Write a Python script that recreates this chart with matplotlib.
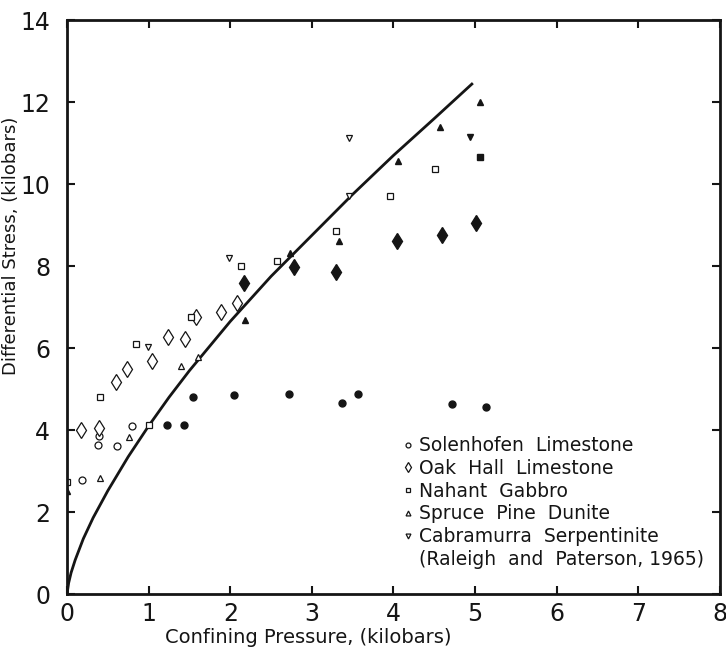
import matplotlib
matplotlib.use('Agg')
import matplotlib.pyplot as plt
from matplotlib.lines import Line2D

# Solenhofen Limestone (open circles)
sol_p = [0.18, 0.38, 0.39, 0.61, 0.80]
sol_s = [2.78, 3.63, 3.85, 3.61, 4.10]
# Oak Hall Limestone (open diamonds)
oak_p = [0.17, 0.39, 0.60, 0.74, 1.04, 1.24, 1.44, 1.58, 1.89, 2.08]
oak_s = [4.00, 4.05, 5.17, 5.49, 5.68, 6.27, 6.22, 6.76, 6.88, 7.10]
# Nahant Gabbro (open squares)
gab_p = [0.00, 0.41, 0.85, 1.00, 1.52, 2.13, 2.57, 3.30, 3.96, 4.51]
gab_s = [2.73, 4.80, 6.10, 4.12, 6.76, 8.00, 8.12, 8.85, 9.70, 10.37]
# Spruce Pine Dunite (triangles)
dun_p = [0.41, 0.76, 1.40, 1.60]
dun_s = [2.83, 3.83, 5.56, 5.77]
dun_fill_p = [0.00, 2.18, 2.73, 3.33, 4.06, 4.57, 5.06]
dun_fill_s = [2.52, 6.68, 8.32, 8.61, 10.56, 11.39, 12.00]
# Cabramurra Serpentinite (inverted triangles)
ser_p = [0.99, 1.98, 3.46, 3.46]
ser_s = [6.03, 8.20, 11.12, 9.70]
ser_fill_p = [4.94]
ser_fill_s = [11.15]
# solid symbols
fc_p = [1.22, 1.43, 1.54, 2.04, 2.72, 3.37, 3.56, 4.72, 5.13]
fc_s = [4.12, 4.12, 4.80, 4.85, 4.88, 4.66, 4.88, 4.63, 4.56]
fd_p = [2.17, 2.78, 3.30, 4.04, 4.60, 5.01]
fd_s = [7.58, 7.98, 7.85, 8.61, 8.76, 9.05]
fsq_p = [5.06]
fsq_s = [10.66]

# strength curve
curve_p = [0.0, 0.02, 0.05, 0.1, 0.2, 0.32, 0.5, 0.75, 1.0, 1.25, 1.5, 2.0,
           2.5, 3.0, 3.5, 4.0, 4.5, 4.96]
curve_s = [0.0, 0.27, 0.52, 0.83, 1.35, 1.86, 2.52, 3.35, 4.10, 4.80, 5.45, 6.65,
           7.75, 8.75, 9.75, 10.7, 11.6, 12.44]

names = ['Solenhofen  Limestone', 'Oak  Hall  Limestone', 'Nahant  Gabbro',
         'Spruce  Pine  Dunite', 'Cabramurra  Serpentinite']
source = '(Raleigh  and  Paterson, 1965)'

ink = '#151515'
plt.rcParams['font.family'] = 'DejaVu Sans'

fig = plt.figure(figsize=(7.26, 6.49), dpi=100)
ax = fig.add_axes([0.0923, 0.0847, 0.8994, 0.8843])

ax.plot(curve_p, curve_s, color=ink, lw=2.0)

op = dict(ls='none', mfc='white', mec=ink, mew=0.9)
ax.plot(sol_p, sol_s, marker='o', ms=5, **op)
ax.plot(oak_p, oak_s, marker='d', ms=8.5, **op)
ax.plot(gab_p, gab_s, marker='s', ms=4.5, **op)
ax.plot(dun_p, dun_s, marker='^', ms=5, **op)
ax.plot(ser_p, ser_s, marker='v', ms=5, **op)

fp = dict(ls='none', color=ink)
ax.plot(dun_fill_p, dun_fill_s, marker='^', ms=5, **fp)
ax.plot(ser_fill_p, ser_fill_s, marker='v', ms=5, **fp)
ax.plot(fc_p, fc_s, marker='o', ms=5, **fp)
ax.plot(fd_p, fd_s, marker='d', ms=8.5, **fp)
ax.plot(fsq_p, fsq_s, marker='s', ms=5, **fp)

ax.set_xlim(0, 8)
ax.set_ylim(0, 14)
ax.set_xticks(range(0, 9))
ax.set_yticks(range(0, 15, 2))
ax.tick_params(direction='in', length=6, width=1.5, colors=ink,
               labelsize=17, top=True, right=True)
ax.tick_params(axis='x', pad=6)
ax.tick_params(axis='y', pad=12)
for lab in ax.get_xticklabels() + ax.get_yticklabels():
    lab.set_family(['Liberation Sans Narrow', 'DejaVu Sans'])
for s in ax.spines.values():
    s.set_linewidth(2)
    s.set_color(ink)

ax.text(2.95, -1.05, 'Confining Pressure, (kilobars)', ha='center', va='center',
        fontsize=14, color=ink)
ax.text(-0.69, 8.5, 'Differential Stress, (kilobars)', ha='center', va='center',
        rotation=90, fontsize=13, color=ink)

handles = [
    Line2D([], [], marker='o', ms=3.5, **op),
    Line2D([], [], marker='d', ms=5, **op),
    Line2D([], [], marker='s', ms=3.5, **op),
    Line2D([], [], marker='^', ms=3.5, **op),
    Line2D([], [], marker='v', ms=3.5, **op),
    Line2D([], [], ls='none'),
]
ax.legend(handles, names + [source], loc='upper left', bbox_to_anchor=(0.515, 0.275),
          frameon=False, fontsize=13.5, handlelength=0.5, handletextpad=0.35,
          labelspacing=0.2, borderpad=0, borderaxespad=0, labelcolor=ink)

fig.savefig('out.png', dpi=100, facecolor='white')
